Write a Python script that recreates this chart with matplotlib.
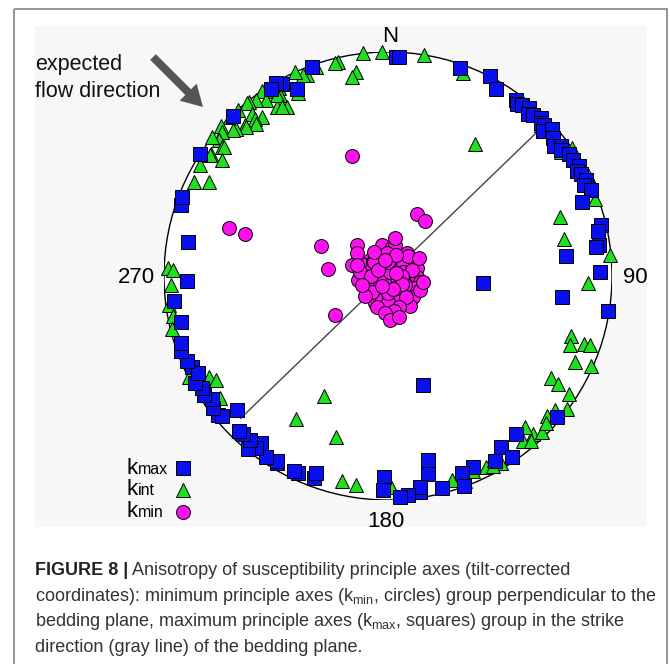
import numpy as np
import matplotlib
matplotlib.use('Agg')
import matplotlib.pyplot as plt
from matplotlib.patches import Rectangle, Circle, FancyArrow

plt.rcParams['font.family'] = ['Liberation Sans', 'DejaVu Sans']
plt.rcParams['mathtext.fontset'] = 'custom'
plt.rcParams['mathtext.rm'] = 'Liberation Sans'

# principal axes (trend, plunge) in degrees, tilt-corrected
kmax_trend = [2, 3, 340, 19, 27, 30, 331, 330, 328, 334, 316, 303,
              36, 37, 38, 40, 41, 42, 44, 45, 46, 47, 48, 50, 52, 53, 54, 56,
              58, 60, 61, 62, 64, 65, 67, 69,
              76.5, 78, 81.6, 82, 88.8, 99, 83.6, 97, 94, 162,
              130, 141, 146.6, 145.5, 150, 156, 159.4, 160, 165.8, 167.6, 168.5,
              171.5, 171.3, 174.7, 177, 181, 181.3,
              200, 200, 204.5, 205.8, 210.7, 211, 213.9, 217.4, 217.5, 219, 220,
              222.6, 224, 228.5, 230.7, 230, 233, 235, 237, 239, 241, 245, 243,
              247, 250, 252, 257.4, 263.3, 268.7, 279.7, 289, 291]
kmax_plunge = [2.5, 2.5, 1, 2, 0, 4, 2.5, 0.5, 1.5, 8, 0.5, 0,
               3, 4.5, 3.5, 2.5, 5, 3.5, 2, 4, 3.5, 6, 2, 4.5, 6.5, 4, 5, 3,
               3, 2, 4, 3, 2, 4, 1.5, 8,
               2.5, 4.5, 5.5, 7, 6, 0.5, 21, 23, 55, 47.5,
               2, 10, 9.5, 2.5, 5, 7.5, 6.5, 0.5, 2.5, 17, 10.5,
               3, 5.5, 2, 1.5, 11, 5,
               4.5, 7, 4, 3.5, 3.5, 4, 3, 7, 3.5, 1, 5,
               5, 4.5, 11, 2.3, 3.5, 2.5, 4.5, 2.5, 3.5, 1.5, 4, 5.5,
               3, 2, 3, 6, 4.5, 11, 10.5, 2.5, 1.5]

kint_trend = [353.5, 358.5, 9.3, 347, 346, 351.2, 349.7, 20.2,
              341, 338.1, 337.2, 335.5, 333.9, 329.9, 329.2, 329.1, 326.7, 326.3,
              325.9, 328.5, 327.8, 325.4, 323.1, 321.6, 321.3, 320.8, 320, 319.8,
              319.1, 318, 316.6, 316.3, 315.3, 314, 313.2, 311.9, 311, 308.7,
              308.2, 307.9, 308.3, 304.7, 304.9, 304.2, 300.6, 295.9, 297.8,
              33.3, 45.5, 54.3, 55.2, 63.3, 69.5, 70.9, 78, 84.5, 92,
              108, 109.1, 108.9, 110.7, 114.7, 113.8, 122.1, 122.3, 123, 126.6,
              128.9, 131.2, 137.4, 137.9, 140.8, 135.5, 133, 139, 148.8, 152.9,
              151, 150, 156.4, 159.5, 162.6,
              179.2, 192.6, 188.8, 208, 212.7, 198,
              272, 271.5, 267.6, 262.4, 259.6, 256.2, 243, 240.5, 238.8, 233.9]
kint_plunge = [0, 0, 0, 2, 2.5, 8.5, 10.5, 4,
               1.5, 3.5, 3, 0, 10, 3.5, 6.5, 13, 10.5, 1,
               0, 6, 12, 5, 2, 10.5, 0.5, 0.5, 6, 9,
               11, 0, 8, 9, 0, 6, 5.5, 0, 2, 3.5,
               0, 7, 7.5, 4.5, 10.5, 4.5, 3, 4, 10.5,
               30, 4.5, 5.5, 0, 0, 1.5, 20, 21, 0.5, 11.5,
               15, 8, 5, 14, 9, 1, 15, 11, 4, 0.5,
               5, 6, 5, 10, 5.5, 2.5, 4, 3, 3, 4.5,
               3.5, 5.5, 5.5, 2.5, 5,
               6.5, 7, 6, 39, 25, 25.5,
               2, 4.5, 3.5, 1.5, 2.5, 1, 0.5, 9, 11, 8]

kmin_trend = [315.2, 306.4, 348.5, 7.4, 12.7, 356.6, 38.6, 311.6, 294, 286.8,
              314, 313.4, 36.4, 50, 64.8, 75.1, 262.3, 268.3, 286, 246.7,
              193.5, 104.4, 96.3, 91.3, 99.9, 243.2, 210.5, 205.4, 184, 153.4,
              130.1, 114.5, 129.1, 172.9, 172.1, 144.4, 156.7, 198.4, 150.6, 117.8,
              265.2, 25.3, 74.4, 75.7, 282.2, 278.6, 113.8, 194.7, 179.5,
              0, 45, 90, 135, 180, 225, 270, 315, 20, 60, 100, 140, 160, 200,
              230, 250, 290, 330, 10, 170, 185, 120, 70, 300, 350, 160, 210,
              178, 165,
              294.2, 276.4, 233.7, 24.8, 33.7, 343.3, 286.9, 286.5]
kmin_plunge = [74.2, 76.2, 78.6, 79.3, 78.6, 81.8, 79.2, 81.3, 80.3, 76.3,
               82.5, 86, 85.8, 82.8, 79.2, 79.3, 79.1, 81.7, 84.4, 84.9,
               87.9, 86.8, 82.5, 79.6, 78.2, 81.4, 82, 79.1, 83.1, 81.7,
               81.2, 79.2, 78.2, 78.8, 75.7, 76.4, 80.6, 84.7, 84.9, 83,
               87.1, 88.3, 84.2, 81.2, 82.7, 79.8, 77.4, 81, 80.7,
               85, 80, 85, 84, 84, 82, 84, 83, 82, 77, 77, 80, 78, 78,
               79, 80, 78, 80, 76, 77, 76.5, 84, 87, 86, 84, 85, 86,
               74, 74.5,
               63, 68.2, 66, 65.1, 65.7, 43.5, 26.7, 34]

bedding_strike = 46
strike_reach = 0.915


def equal_area(trend, plunge):
    t = np.radians(np.asarray(trend, dtype=float))
    p = np.radians(np.asarray(plunge, dtype=float))
    r = np.sqrt(2) * np.sin((np.pi / 2 - p) / 2)
    return r * np.sin(t), r * np.cos(t)


W, H = 670, 664
fig = plt.figure(figsize=(W / 100, H / 100), dpi=100)

# full-figure pixel layer for the frame, panel, arrow and texts
bg = fig.add_axes([0, 0, 1, 1], zorder=0)
bg.set_xlim(0, W)
bg.set_ylim(H, 0)
bg.axis('off')
bg.add_patch(Rectangle((14, 9), 653, 670, fill=False, edgecolor='#8c8c8c', lw=1.3))
bg.add_patch(Rectangle((35, 26), 612, 501, facecolor='#f7f7f7', edgecolor='none'))
bg.add_patch(FancyArrow(153, 57, 50, 50, width=8, head_width=24, head_length=21,
                        length_includes_head=True, color='#555555', lw=0))

bg.text(35, 70, 'expected', fontsize=15.5, color='#111111')
bg.text(35, 97, 'flow direction', fontsize=15.5, color='#111111')
bg.text(390, 42, 'N', fontsize=16, ha='center', va='baseline')
bg.text(118, 283, '270', fontsize=16, ha='left', va='baseline')
bg.text(623, 283, '90', fontsize=16, ha='left', va='baseline')
bg.text(386, 527, '180', fontsize=16, ha='center', va='baseline')

# stereonet
ax = fig.add_axes([164 / W, (H - 500) / H, 448 / W, 448 / H], zorder=1)
ax.set_xlim(-1, 1)
ax.set_ylim(-1, 1)
ax.axis('off')
ax.add_patch(Circle((0, 0), 1, facecolor='white', edgecolor='black', lw=1.0, zorder=1))

s = np.radians(bedding_strike)
ax.plot([-strike_reach * np.sin(s), strike_reach * np.sin(s)],
        [-strike_reach * np.cos(s), strike_reach * np.cos(s)],
        color='#444444', lw=1.0, zorder=2)

x, y = equal_area(kint_trend, kint_plunge)
ax.plot(x, y, '^', ms=10.5, mfc='#1ee01e', mec='black', mew=0.7,
        ls='none', clip_on=False, zorder=3)
x, y = equal_area(kmax_trend, kmax_plunge)
ax.plot(x, y, 's', ms=9.5, mfc='#0a0ff0', mec='black', mew=0.7,
        ls='none', clip_on=False, zorder=4)
x, y = equal_area(kmin_trend, kmin_plunge)
ax.plot(x, y, 'o', ms=10, mfc='#ff10f0', mec='black', mew=0.7,
        ls='none', clip_on=False, zorder=5)

# legend
leg_rows = [('max', 's', '#0a0ff0', 474, 468),
            ('int', '^', '#1ee01e', 495, 490),
            ('min', 'o', '#ff10f0', 517, 512)]
for sub, mk, col, base, my in leg_rows:
    bg.text(127, base, 'k', fontsize=16)
    bg.text(138, base, sub, fontsize=11.5)
    bg.plot([183], [my], mk, ms=9.5 if mk != 'o' else 10, mfc=col, mec='black', mew=0.7)

# caption
cap_lines = [
    ' Anisotropy of susceptibility principle axes (tilt-corrected',
    'coordinates): minimum principle axes (k$_{\\rm min}$, circles) group perpendicular to the',
    'bedding plane, maximum principle axes (k$_{\\rm max}$, squares) group in the strike',
    'direction (gray line) of the bedding plane.',
]
baselines = [575, 601, 626.5, 652]

renderer = fig.canvas.get_renderer()
probe = bg.text(35, 601, cap_lines[1], fontsize=14)
width_px = probe.get_window_extent(renderer).width
cap_size = 14 * 624 / width_px
probe.remove()

head = bg.text(35, baselines[0], 'FIGURE 8 |', fontsize=cap_size,
               fontweight='bold', color='#222222')
head_w = head.get_window_extent(renderer).width
bg.text(35 + head_w, baselines[0], cap_lines[0], fontsize=cap_size, color='#333333')
for line, yb in zip(cap_lines[1:], baselines[1:]):
    bg.text(35, yb, line, fontsize=cap_size, color='#333333')

fig.savefig('out.png', dpi=100)
